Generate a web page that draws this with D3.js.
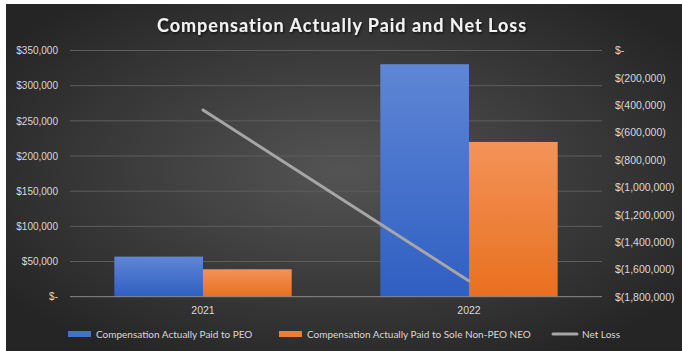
<!DOCTYPE html>
<html>
<head>
<meta charset="utf-8">
<script src="https://cdn.jsdelivr.net/npm/d3@7"></script>
<style>
  html, body { margin: 0; padding: 0; background: #fff; }
  svg { display: block; font-family: Lato, 'Open Sans', 'Liberation Sans', sans-serif; }
</style>
</head>
<body>
<svg id="chart" width="682" height="351"></svg>
<script>
// Compensation Actually Paid vs. Net Loss: clustered bars (left axis) + line (right axis)
var years = ['2021', '2022'];
var seriesNames = ['Compensation Actually Paid to PEO', 'Compensation Actually Paid to Sole Non-PEO NEO'];
var peoValues = [57000, 330500];
var neoValues = [39000, 220000];
var netLoss = [-435000, -1685000];
var leftTicks = [0, 50000, 100000, 150000, 200000, 250000, 300000, 350000];
var rightTicks = [0, -200000, -400000, -600000, -800000, -1000000, -1200000, -1400000, -1600000, -1800000];

var svg = d3.select('#chart');
var W = 682, H = 351;
var plot = { left: 70, right: 602, top: 50.5, bottom: 296.7 };

var defs = svg.append('defs');
var bg = defs.append('radialGradient').attr('id', 'bg')
    .attr('cx', '50%').attr('cy', '48%').attr('r', '62%');
bg.append('stop').attr('offset', '0%').attr('stop-color', '#545454');
bg.append('stop').attr('offset', '100%').attr('stop-color', '#252525');

function barGrad(id, top, bottom) {
    var g = defs.append('linearGradient').attr('id', id)
        .attr('x1', 0).attr('y1', 0).attr('x2', 0).attr('y2', 1);
    g.append('stop').attr('offset', '0%').attr('stop-color', top);
    g.append('stop').attr('offset', '100%').attr('stop-color', bottom);
}
barGrad('gBlue', '#5f86d6', '#2f5fc2');
barGrad('gOrange', '#f39358', '#e8701f');

var shadow = defs.append('filter').attr('id', 'tshadow')
    .attr('x', '-5%').attr('y', '-20%').attr('width', '110%').attr('height', '140%');
shadow.append('feDropShadow').attr('dx', 1).attr('dy', 1.5).attr('stdDeviation', 1)
    .attr('flood-color', '#000').attr('flood-opacity', 0.7);

svg.append('rect').attr('x', 6).attr('y', 4).attr('width', W - 6).attr('height', H - 4)
    .attr('fill', 'url(#bg)');

var x0 = d3.scaleBand().domain(years).range([plot.left, plot.right]);
var x1 = d3.scaleBand().domain(seriesNames).range([0, x0.bandwidth()]).paddingOuter(0.5);
var yL = d3.scaleLinear().domain([0, 350000]).range([plot.bottom, plot.top]);
var yR = d3.scaleLinear().domain([-1800000, 0]).range([plot.bottom, plot.top]);

// grid
svg.append('g').selectAll('line').data(leftTicks.slice(1)).enter().append('line')
    .attr('x1', plot.left).attr('x2', plot.right)
    .attr('y1', function (d) { return yL(d); }).attr('y2', function (d) { return yL(d); })
    .attr('stroke', '#5e5e5e').attr('stroke-width', 1);

var fmtL = function (d) { return d === 0 ? '$-' : '$' + d3.format(',')(d); };
var fmtR = function (d) { return d === 0 ? '$-' : '$(' + d3.format(',')(-d) + ')'; };

var axL = svg.append('g').attr('transform', 'translate(' + plot.left + ',0)')
    .call(d3.axisLeft(yL).tickValues(leftTicks).tickFormat(fmtL).tickSize(0).tickPadding(12));
axL.select('.domain').remove();
axL.selectAll('text').attr('fill', '#d9d9d9').attr('font-size', 10);

var axR = svg.append('g').attr('transform', 'translate(' + plot.right + ',0)')
    .call(d3.axisRight(yR).tickValues(rightTicks).tickFormat(fmtR).tickSize(0).tickPadding(13));
axR.select('.domain').remove();
axR.selectAll('text').attr('fill', '#d9d9d9').attr('font-size', 10.5);

// bars
var rows = years.map(function (y, i) {
    return { year: y, vals: [{ s: seriesNames[0], v: peoValues[i], f: 'url(#gBlue)' },
                             { s: seriesNames[1], v: neoValues[i], f: 'url(#gOrange)' }] };
});
svg.append('g').selectAll('g').data(rows).enter().append('g')
    .attr('transform', function (d) { return 'translate(' + x0(d.year) + ',0)'; })
    .selectAll('rect').data(function (d) { return d.vals; }).enter().append('rect')
    .attr('x', function (d) { return x1(d.s); })
    .attr('width', x1.bandwidth())
    .attr('y', function (d) { return yL(d.v); })
    .attr('height', function (d) { return yL(0) - yL(d.v); })
    .attr('fill', function (d) { return d.f; });

// baseline
svg.append('line').attr('x1', plot.left).attr('x2', plot.right)
    .attr('y1', plot.bottom).attr('y2', plot.bottom)
    .attr('stroke', '#8c8c8c').attr('stroke-width', 1);

// category labels
var axX = svg.append('g').attr('transform', 'translate(0,' + plot.bottom + ')')
    .call(d3.axisBottom(x0).tickSize(0).tickPadding(10));
axX.select('.domain').remove();
axX.selectAll('text').attr('fill', '#d9d9d9').attr('font-size', 10.5);

// net loss line
var line = d3.line()
    .x(function (d, i) { return x0(years[i]) + x0.bandwidth() / 2; })
    .y(function (d) { return yR(d); });
svg.append('path').datum(netLoss).attr('d', line)
    .attr('fill', 'none').attr('stroke', '#a6a6a6').attr('stroke-width', 3)
    .attr('stroke-linecap', 'round');

// title
svg.append('text').attr('x', 342).attr('y', 32).attr('text-anchor', 'middle')
    .attr('fill', '#f2f2f2').attr('font-size', 18).attr('font-weight', 'bold')
    .attr('letter-spacing', 1).attr('filter', 'url(#tshadow)')
    .text('Compensation Actually Paid and Net Loss');

// legend
var legY = 334;
var leg = [
    { label: seriesNames[0], x: 68, type: 'rect', color: '#4472c4' },
    { label: seriesNames[1], x: 279, type: 'rect', color: '#ed7d31' },
    { label: 'Net Loss', x: 552, type: 'line', color: '#a6a6a6' }
];
var lg = svg.append('g').selectAll('g').data(leg).enter().append('g')
    .attr('transform', function (d) { return 'translate(' + d.x + ',' + legY + ')'; });
lg.filter(function (d) { return d.type === 'rect'; }).append('rect')
    .attr('x', 0).attr('y', -3).attr('width', 23).attr('height', 6)
    .attr('fill', function (d) { return d.color; });
lg.filter(function (d) { return d.type === 'line'; }).append('line')
    .attr('x1', 1).attr('x2', 25).attr('y1', 0).attr('y2', 0)
    .attr('stroke', function (d) { return d.color; }).attr('stroke-width', 3)
    .attr('stroke-linecap', 'round');
lg.append('text').attr('x', function (d) { return d.type === 'line' ? 30 : 28; }).attr('y', 0)
    .attr('dy', '0.35em').attr('fill', '#d9d9d9').attr('font-size', 10)
    .text(function (d) { return d.label; });
</script>
</body>
</html>
